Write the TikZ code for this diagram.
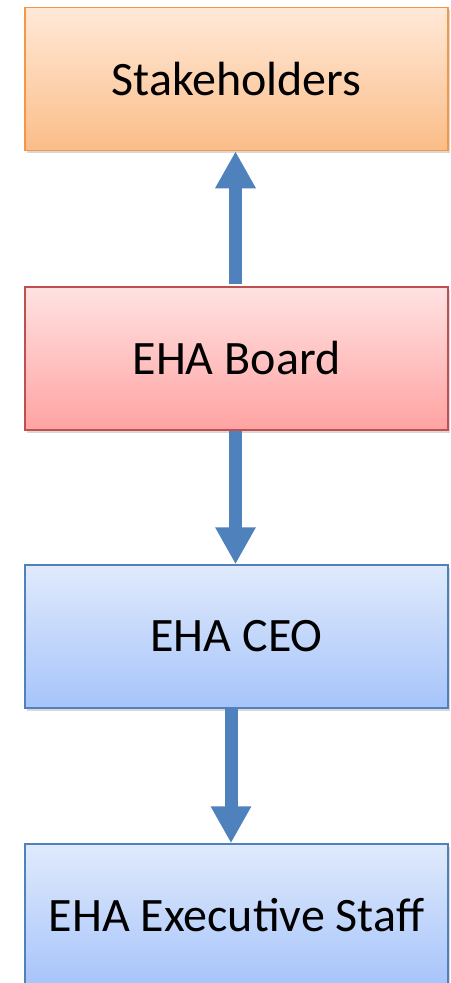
\documentclass[tikz,border=0pt]{standalone}
\usepackage{fontspec}
\setmainfont{Carlito}
\usetikzlibrary{arrows.meta,shadows}
\definecolor{orangeedge}{HTML}{F79646}
\definecolor{orangetop}{HTML}{FFE9D8}
\definecolor{orangebot}{HTML}{FBBD88}
\definecolor{rededge}{HTML}{C0504D}
\definecolor{redtop}{HTML}{FFE2E2}
\definecolor{redbot}{HTML}{FFA3A2}
\definecolor{blueedge}{HTML}{4F81BD}
\definecolor{bluetop}{HTML}{E0EAFC}
\definecolor{bluebot}{HTML}{A6C4FA}
\definecolor{arrowblue}{HTML}{4F81BD}
\tikzset{
  orgbox/.style={rectangle, minimum width=423pt, minimum height=143pt,
    line width=1.5pt, inner sep=0pt,
    font=\fontsize{48}{58}\selectfont,
    drop shadow={shadow xshift=1.5pt, shadow yshift=-2.5pt, opacity=0.25, fill=black!60}},
  orangebox/.style={orgbox, draw=orangeedge, top color=orangetop, bottom color=orangebot},
  redbox/.style={orgbox, draw=rededge, top color=redtop, bottom color=redbot},
  bluebox/.style={orgbox, draw=blueedge, top color=bluetop, bottom color=bluebot},
  blockarrow/.style={draw=arrowblue, line width=13pt,
    -{Triangle[width=38pt, length=37pt, fill=arrowblue]}}
}
\begin{document}
\begin{tikzpicture}[x=1pt, y=-1pt]
  \useasboundingbox (0,0) rectangle (450,983);
  \fill[white] (0,0) rectangle (450,983);

  % the four levels of the organisation
  \node[orangebox] (stake) at (236.5,79)    {Stakeholders};
  \node[redbox]    (board) at (236.5,358.5) {EHA Board};
  \node[bluebox]   (ceo)   at (236.5,636.5) {EHA CEO};
  \node[bluebox]   (staff) at (236.5,915.5) {EHA Executive Staff};

  % block arrows between the levels
  \draw[blockarrow] ([xshift=-1pt,yshift=2pt]board.north) -- ([xshift=-1pt]stake.south);
  \draw[blockarrow] ([xshift=-1pt]board.south) -- ([xshift=-1pt]ceo.north);
  \draw[blockarrow] ([xshift=-5.5pt]ceo.south) -- ([xshift=-5.5pt]staff.north);
\end{tikzpicture}
\end{document}
